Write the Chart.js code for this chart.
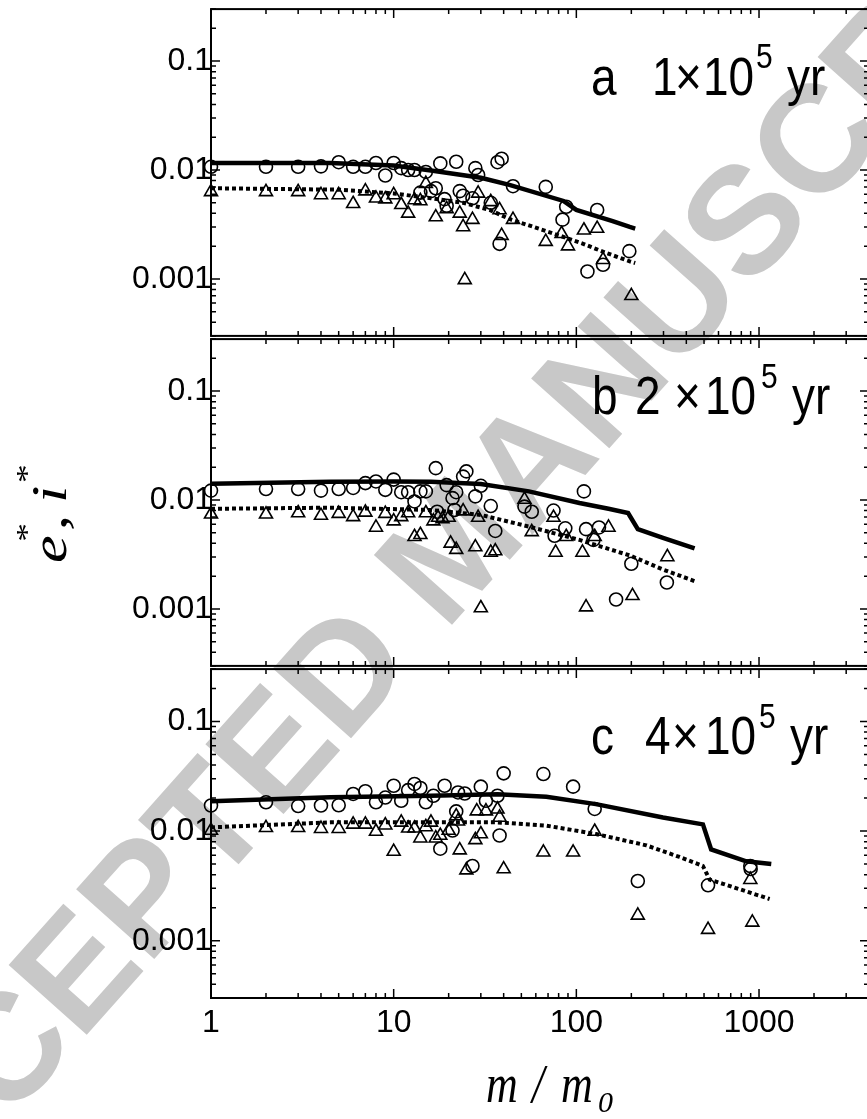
<!DOCTYPE html>
<html>
<head>
<meta charset="utf-8">
<script src="https://cdn.jsdelivr.net/npm/chart.js@4.4.1/dist/chart.umd.min.js"></script>
<style>
  html, body { margin: 0; padding: 0; background: #fff; overflow: hidden; }
  body { width: 867px; height: 1119px; position: relative; }
  canvas { position: absolute; left: 0; }
</style>
</head>
<body>
<canvas id="fondo" width="867" height="1119" style="top:0"></canvas>
<canvas id="panelA" width="880" height="345" style="top:0"></canvas>
<canvas id="panelB" width="880" height="345" style="top:330px"></canvas>
<canvas id="panelC" width="880" height="400" style="top:660px"></canvas>
<script>
// ticks de los ejes
const valoresTicksX = [1, 10, 100, 1000];
const etiquetasTicksX = ["1", "10", "100", "1000"];
const valoresTicksY = [0.001, 0.01, 0.1];
const etiquetasTicksY = ["0.001", "0.01", "0.1"];

// panel a (1x10^5 yr): circulos = e*, triangulos = i*
const masasEA = [1, 2, 3, 4, 5, 6, 7, 8, 9, 10, 11, 12, 13, 14, 15, 16, 17, 18, 19, 19.5, 22, 23, 24, 27, 28, 29, 34, 37, 38, 39, 45, 68, 84, 88, 115, 130, 140, 195];
const valoresEA = [0.0107, 0.0107, 0.0107, 0.0108, 0.0118, 0.0107, 0.0107, 0.0116, 0.0089, 0.0116, 0.0104, 0.0100, 0.0100, 0.0062, 0.0096, 0.0064, 0.0068, 0.0115, 0.0054, 0.0047, 0.0119, 0.0064, 0.0058, 0.0055, 0.0104, 0.0090, 0.0050, 0.0118, 0.0021, 0.0127, 0.0071, 0.0070, 0.0035, 0.0046, 0.00117, 0.0043, 0.00135, 0.0018];
const masasIA = [1, 2, 3, 4, 5, 6, 7, 8, 9, 10, 11, 12, 13, 14, 15, 17, 19.5, 23, 24, 24.5, 27, 29, 34, 38, 39, 45, 68, 83, 90, 110, 130, 140, 200];
const valoresIA = [0.0063, 0.0063, 0.0063, 0.0059, 0.0059, 0.0049, 0.0064, 0.0055, 0.0054, 0.0059, 0.0048, 0.0040, 0.0053, 0.0052, 0.0075, 0.0037, 0.0044, 0.0040, 0.0030, 0.00098, 0.0035, 0.0061, 0.0051, 0.0043, 0.0025, 0.0035, 0.0022, 0.0026, 0.0020, 0.0028, 0.0029, 0.0015, 0.0007];
const curvaMasaEA = [1, 4.5, 10, 16, 30, 43, 85, 100, 158, 196, 210];
const curvaEA = [0.0116, 0.0116, 0.0110, 0.0099, 0.0085, 0.0073, 0.0052, 0.0043, 0.0034, 0.0030, 0.0029];
const curvaMasaIA = [1, 5, 10, 16, 24, 33.5, 44, 55, 81, 109, 146, 196, 210];
const curvaIA = [0.0068, 0.0066, 0.0061, 0.0055, 0.0050, 0.0043, 0.0035, 0.0031, 0.0025, 0.0021, 0.00173, 0.00145, 0.0014];

// panel b (2x10^5 yr)
const masasEB = [1, 2, 3, 4, 5, 6, 7, 8, 9, 10, 11, 12, 13, 14, 15, 17, 17.3, 19.5, 21, 21.5, 22, 24, 25, 28, 30, 34, 36, 52, 57, 75, 76, 87, 110, 113, 124, 133, 165, 200, 313];
const valoresEB = [0.0122, 0.0126, 0.0126, 0.0122, 0.0126, 0.0129, 0.0143, 0.0148, 0.0124, 0.0154, 0.0118, 0.0118, 0.0097, 0.0120, 0.0120, 0.0196, 0.0078, 0.0137, 0.0104, 0.0081, 0.0118, 0.0164, 0.0183, 0.0108, 0.0135, 0.0088, 0.0052, 0.0087, 0.0078, 0.0080, 0.0047, 0.0055, 0.0120, 0.0054, 0.0043, 0.0056, 0.00122, 0.0026, 0.00175];
const masasIB = [1, 2, 3, 4, 5, 6, 7, 8, 9, 10, 11, 12, 13, 14, 15, 16.5, 17.5, 18.5, 20, 20.5, 22, 24, 28, 29, 30, 34, 36, 52, 57, 75, 77, 88, 108, 113, 126, 150, 203, 315];
const valoresIB = [0.0074, 0.0074, 0.0076, 0.0072, 0.0075, 0.0070, 0.0077, 0.0056, 0.0075, 0.0064, 0.0070, 0.0076, 0.0046, 0.0048, 0.0076, 0.0064, 0.0069, 0.0067, 0.0069, 0.0040, 0.0035, 0.0079, 0.0037, 0.0069, 0.00102, 0.0033, 0.0034, 0.0101, 0.0051, 0.0069, 0.0033, 0.0046, 0.0033, 0.00104, 0.0046, 0.0056, 0.00132, 0.0030];
const curvaMasaEB = [1, 4.5, 10, 16, 30, 55, 104, 150, 192, 217, 298, 444];
const curvaEB = [0.0141, 0.0147, 0.0148, 0.0147, 0.0140, 0.0120, 0.0094, 0.0083, 0.0076, 0.0054, 0.0045, 0.0036];
const curvaMasaIB = [1, 4.5, 16, 30, 55, 104, 196, 298, 444];
const curvaIB = [0.0083, 0.0085, 0.0081, 0.0073, 0.0057, 0.0043, 0.0031, 0.0023, 0.0018];

// panel c (4x10^5 yr)
const masasEC = [1, 2, 3, 4, 5, 6, 7, 8, 9, 10, 11, 12, 13, 14, 15, 16.5, 18, 19, 21, 22, 22.5, 24.5, 27, 30, 32, 37, 38, 40, 66, 96, 126, 217, 526, 896, 900];
const valoresEC = [0.0171, 0.0183, 0.0169, 0.0171, 0.0172, 0.0218, 0.0231, 0.0183, 0.0202, 0.0259, 0.0189, 0.0236, 0.0269, 0.0247, 0.0183, 0.0210, 0.0069, 0.0259, 0.0101, 0.0151, 0.0225, 0.0220, 0.0048, 0.0254, 0.0189, 0.0210, 0.0091, 0.0336, 0.0331, 0.0254, 0.0159, 0.0035, 0.0032, 0.0048, 0.0045];
const masasIC = [1, 2, 3, 4, 5, 6, 7, 8, 9, 10, 11, 12, 13, 14, 15, 16, 17, 18, 20, 22, 22.5, 23, 25, 28, 28.5, 30, 32, 37, 38, 40, 66, 96, 126, 217, 526, 896, 919];
const valoresIC = [0.0101, 0.0107, 0.0107, 0.0105, 0.0105, 0.0115, 0.0115, 0.0099, 0.0113, 0.0065, 0.0120, 0.0106, 0.0106, 0.0086, 0.0109, 0.0120, 0.0086, 0.0091, 0.0101, 0.0137, 0.0123, 0.0067, 0.0044, 0.0083, 0.0152, 0.0094, 0.0152, 0.0158, 0.0133, 0.0045, 0.0064, 0.0064, 0.0099, 0.0017, 0.00126, 0.0036, 0.00147];
const curvaMasaEC = [1, 4.5, 16, 37, 68.5, 128, 298, 493, 547, 851, 1167];
const curvaEC = [0.0187, 0.0203, 0.0210, 0.0217, 0.0205, 0.0176, 0.0133, 0.0115, 0.0068, 0.0053, 0.0050];
const curvaMasaIC = [1, 4.5, 16, 37, 68.5, 128, 242, 367, 493, 537, 635, 1143];
const curvaIC = [0.0108, 0.0120, 0.0120, 0.0120, 0.0112, 0.0094, 0.0074, 0.0058, 0.0048, 0.0036, 0.0033, 0.0024];

const fuenteTicks = { family: "'Liberation Sans', Arial, sans-serif", size: 32 };

function puntos(masas, valores) {
  return masas.map((m, i) => ({ x: m, y: valores[i] }));
}

// marco del panel con ticks hacia adentro en los cuatro lados
const marcoPlugin = {
  id: "marco",
  afterDatasetsDraw(chart) {
    const { ctx, chartArea: a, scales } = chart;
    const marcas = (min, max) => {
      const lista = [];
      for (let e = Math.floor(Math.log10(min)); e <= Math.ceil(Math.log10(max)); e++) {
        for (let k = 1; k < 10; k++) {
          const v = k * Math.pow(10, e);
          if (v >= min * 0.999 && v <= max * 1.001) lista.push({ v, mayor: k === 1 });
        }
      }
      return lista;
    };
    ctx.save();
    ctx.strokeStyle = "#000";
    ctx.lineWidth = 1.5;
    ctx.beginPath();
    marcas(scales.x.min, scales.x.max).forEach(({ v, mayor }) => {
      const px = scales.x.getPixelForValue(v);
      const l = mayor ? 9 : 5;
      ctx.moveTo(px, a.bottom);
      ctx.lineTo(px, a.bottom - l);
      ctx.moveTo(px, a.top);
      ctx.lineTo(px, a.top + l);
    });
    marcas(scales.y.min, scales.y.max).forEach(({ v, mayor }) => {
      const py = scales.y.getPixelForValue(v);
      const l = mayor ? 9 : 5;
      ctx.moveTo(a.left, py);
      ctx.lineTo(a.left + l, py);
      ctx.moveTo(a.right, py);
      ctx.lineTo(a.right - l, py);
    });
    ctx.stroke();
    ctx.lineWidth = 2;
    ctx.strokeRect(a.left, a.top, a.right - a.left, a.bottom - a.top);
    ctx.restore();
  },
};

// rotulo "a 1x10^5 yr" de cada panel
const rotuloPlugin = {
  id: "rotulo",
  afterDraw(chart, args, opts) {
    const ctx = chart.ctx;
    const top = chart.chartArea.top;
    opts.partes.forEach(([texto, x, sup]) => {
      ctx.save();
      ctx.translate(x, top + (sup ? opts.baseSup : opts.base));
      ctx.scale(1, 1.16);
      ctx.fillStyle = "#000";
      ctx.textAlign = "left";
      ctx.textBaseline = "alphabetic";
      ctx.font = (sup ? "30px" : "46px") + " 'Liberation Sans', Arial, sans-serif";
      ctx.fillText(texto, 0, 0);
      ctx.restore();
    });
  },
};

function prepararConfiguracion(panel) {
  const marcador = {
    pointBorderColor: "#000",
    pointBackgroundColor: "rgba(0,0,0,0)",
    pointBorderWidth: 1.6,
    showLine: false,
    clip: false,
  };
  const conjuntos = [
    { ...marcador, data: puntos(panel.masasE, panel.valoresE), pointStyle: "circle", pointRadius: 6.5 },
    { ...marcador, data: puntos(panel.masasI, panel.valoresI), pointStyle: "triangle", pointRadius: 7.5 },
    {
      data: puntos(panel.curvaMasaE, panel.curvaE),
      showLine: true, pointRadius: 0, borderColor: "#000", borderWidth: 4.5, clip: false,
    },
    {
      data: puntos(panel.curvaMasaI, panel.curvaI),
      showLine: true, pointRadius: 0, borderColor: "#000", borderWidth: 4,
      borderDash: [4, 3], borderCapStyle: "butt", clip: false,
    },
  ];
  return {
    type: "scatter",
    data: { datasets: conjuntos },
    options: {
      responsive: false,
      animation: false,
      events: [],
      layout: { padding: { top: 8, bottom: panel.ejeX ? 0 : 7, left: 0, right: 11 } },
      plugins: {
        legend: { display: false },
        tooltip: { enabled: false },
        rotulo: panel.rotulo,
      },
      scales: {
        x: {
          type: "logarithmic",
          min: 1,
          max: 4000,
          display: panel.ejeX,
          grid: { display: false, drawTicks: false },
          border: { display: false },
          afterBuildTicks: (eje) => {
            eje.ticks = valoresTicksX.map((v) => ({ value: v }));
          },
          afterFit: (eje) => {
            eje.height = panel.ejeX ? 62 : 0;
            eje.paddingLeft = 0;
            eje.paddingRight = 0;
          },
          ticks: {
            autoSkip: false,
            maxRotation: 0,
            padding: 6,
            color: "#000",
            font: fuenteTicks,
            callback: (v, i) => etiquetasTicksX[i],
          },
        },
        y: {
          type: "logarithmic",
          min: 0.0003,
          max: 0.3,
          grid: { display: false, drawTicks: false },
          border: { display: false },
          afterBuildTicks: (eje) => {
            eje.ticks = valoresTicksY.map((v) => ({ value: v }));
          },
          afterFit: (eje) => {
            eje.width = 211;
            eje.paddingTop = 0;
            eje.paddingBottom = 0;
          },
          ticks: {
            autoSkip: false,
            padding: -1,
            color: "#000",
            font: fuenteTicks,
            callback: (v, i) => etiquetasTicksY[i],
          },
        },
      },
    },
    plugins: [marcoPlugin, rotuloPlugin],
  };
}

const paneles = [
  {
    id: "panelA", ejeX: false,
    masasE: masasEA, valoresE: valoresEA, masasI: masasIA, valoresI: valoresIA,
    curvaMasaE: curvaMasaEA, curvaE: curvaEA, curvaMasaI: curvaMasaIA, curvaI: curvaIA,
    rotulo: { base: 86, baseSup: 59, partes: [["a", 591], ["1", 652], ["\u00d7", 675], ["10", 703], ["5", 756, true], ["yr", 787]] },
  },
  {
    id: "panelB", ejeX: false,
    masasE: masasEB, valoresE: valoresEB, masasI: masasIB, valoresI: valoresIB,
    curvaMasaE: curvaMasaEB, curvaE: curvaEB, curvaMasaI: curvaMasaIB, curvaI: curvaIB,
    rotulo: { base: 75, baseSup: 49, partes: [["b", 592], ["2", 635], ["\u00d7", 674], ["10", 705], ["5", 761, true], ["yr", 792]] },
  },
  {
    id: "panelC", ejeX: true,
    masasE: masasEC, valoresE: valoresEC, masasI: masasIC, valoresI: valoresIC,
    curvaMasaE: curvaMasaEC, curvaE: curvaEC, curvaMasaI: curvaMasaIC, curvaI: curvaIC,
    rotulo: { base: 85, baseSup: 59, partes: [["c", 591], ["4", 645], ["\u00d7", 672], ["10", 705], ["5", 759, true], ["yr", 790]] },
  },
];

// fondo: marca de agua y titulos de los ejes
function dibujarFondo() {
  const ctx = document.getElementById("fondo").getContext("2d");
  ctx.save();
  ctx.translate(-139, 1288);
  ctx.rotate((-48.3 * Math.PI) / 180);
  ctx.font = "bold 152px 'Liberation Sans', Arial, sans-serif";
  ctx.fillStyle = "#c8c8c8";
  ctx.fillText("ACCEPTED MANUSCRIPT", 0, 0);
  ctx.restore();

  const serif = "'Liberation Serif', 'Times New Roman', serif";
  ctx.fillStyle = "#000";
  // titulo x: m / m0
  ctx.save();
  ctx.translate(0, 1102);
  ctx.scale(1, 1.27);
  ctx.font = "italic 44px " + serif;
  ctx.fillText("m", 486, 0);
  ctx.fillText("/", 532, 0);
  ctx.fillText("m", 561, 0);
  ctx.restore();
  ctx.font = "italic 30px " + serif;
  ctx.fillText("0", 598, 1112);

  // titulo y: e*, i*
  ctx.save();
  ctx.translate(66, 563);
  ctx.rotate(-Math.PI / 2);
  ctx.scale(1.25, 1);
  ctx.font = "italic 50px " + serif;
  ctx.fillText("e", 0, 0);
  ctx.fillText(",", 26, 0);
  ctx.fillText("i", 48, 0);
  ctx.font = "30px " + serif;
  ctx.fillText("*", 17, -30);
  ctx.fillText("*", 64, -30);
  ctx.restore();
}

dibujarFondo();
paneles.forEach((panel) => {
  new Chart(document.getElementById(panel.id), prepararConfiguracion(panel));
});
</script>
</body>
</html>
